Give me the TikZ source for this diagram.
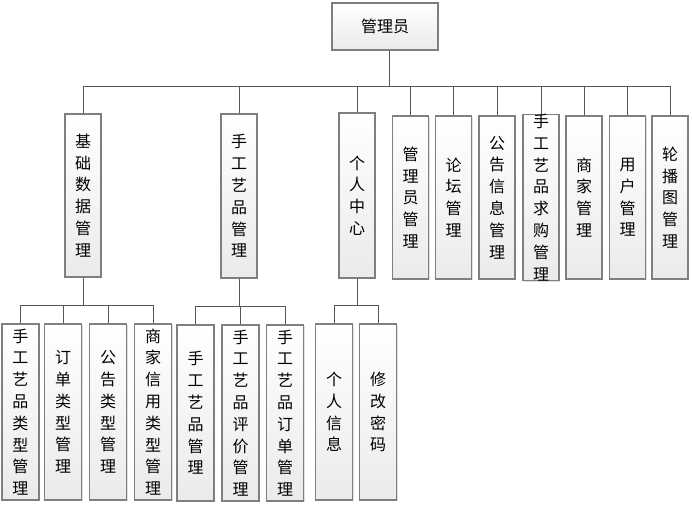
\documentclass[tikz,border=0pt]{standalone}
\usepackage{fontspec}
\newfontfamily\cjk{Noto Sans CJK SC}
\usetikzlibrary{shadows}
\definecolor{boxline}{HTML}{7F7F7F}
\definecolor{linkcol}{HTML}{555555}
\tikzset{
  box/.style={draw=boxline, line width=1.1pt, top color=white, bottom color=black!8,
    drop shadow={shadow xshift=1.3pt, shadow yshift=-1.3pt, fill=black!25},
    inner sep=0pt, align=center, font=\cjk\fontsize{16}{21.8}\selectfont},
  link/.style={draw=linkcol, line width=0.9pt}
}
\begin{document}
\begin{tikzpicture}[x=1pt,y=-1pt]
\useasboundingbox (0,0) rectangle (692,505);
% root
\node[box, minimum width=106pt, minimum height=47pt] (root) at (385,26.5) {管理员};
% level 2
\node[box, minimum width=36pt, minimum height=163pt] (b1) at (83,195.5) {基\\础\\数\\据\\管\\理};
\node[box, minimum width=36pt, minimum height=164pt] (b2) at (239,196) {手\\工\\艺\\品\\管\\理};
\node[box, minimum width=36pt, minimum height=165pt] (b3) at (357,195.5) {个\\人\\中\\心};
\node[box, minimum width=36pt, minimum height=163pt] (b4) at (410.5,197.5) {管\\理\\员\\管\\理};
\node[box, minimum width=36pt, minimum height=163pt] (b5) at (453.5,197.5) {论\\坛\\管\\理};
\node[box, minimum width=36pt, minimum height=163pt] (b6) at (497,197.5) {公\\告\\信\\息\\管\\理};
\node[box, minimum width=36pt, minimum height=163pt] (b7) at (541,197.5) {手\\工\\艺\\品\\求\\购\\管\\理};
\node[box, minimum width=36pt, minimum height=163pt] (b8) at (584,197.5) {商\\家\\管\\理};
\node[box, minimum width=36pt, minimum height=163pt] (b9) at (627.5,197.5) {用\\户\\管\\理};
\node[box, minimum width=36pt, minimum height=163pt] (b10) at (670,197.5) {轮\\播\\图\\管\\理};
% level 3
\node[box, minimum width=37pt, minimum height=176pt] (c1) at (20.5,412) {手\\工\\艺\\品\\类\\型\\管\\理};
\node[box, minimum width=37pt, minimum height=176pt] (c2) at (63,412) {订\\单\\类\\型\\管\\理};
\node[box, minimum width=37pt, minimum height=176pt] (c3) at (108,412) {公\\告\\类\\型\\管\\理};
\node[box, minimum width=37pt, minimum height=176pt] (c4) at (153,412) {商\\家\\信\\用\\类\\型\\管\\理};
\node[box, minimum width=37pt, minimum height=176pt] (d1) at (195.5,413) {手\\工\\艺\\品\\管\\理};
\node[box, minimum width=37pt, minimum height=176pt] (d2) at (240.5,413) {手\\工\\艺\\品\\评\\价\\管\\理};
\node[box, minimum width=37pt, minimum height=176pt] (d3) at (285,413) {手\\工\\艺\\品\\订\\单\\管\\理};
\node[box, minimum width=37pt, minimum height=176pt] (e1) at (334,412) {个\\人\\信\\息};
\node[box, minimum width=37pt, minimum height=176pt] (e2) at (378,412) {修\\改\\密\\码};
% bus coordinates
\coordinate (bus1) at (389,86);
\coordinate (bus2) at (0,305);
\coordinate (bus3) at (0,306);
% root connectors
\draw[link] ([xshift=4pt]root.south) -- (bus1);
\draw[link] (b1.north |- bus1) -- (b10.north |- bus1);
\foreach \n in {b1,b2,b3,b4,b5,b6,b7,b8,b9,b10}
  \draw[link] (\n.north |- bus1) -- (\n.north);
% basic data
\draw[link] (b1.south) -- (b1.south |- bus2);
\draw[link] (c1.north |- bus2) -- (c4.north |- bus2);
\foreach \n in {c1,c2,c3,c4}
  \draw[link] (\n.north |- bus2) -- (\n.north);
% handicraft
\draw[link] (b2.south) -- (b2.south |- bus3);
\draw[link] (d1.north |- bus3) -- (d3.north |- bus3);
\foreach \n in {d1,d2,d3}
  \draw[link] (\n.north |- bus3) -- (\n.north);
% personal
\draw[link] (b3.south) -- (b3.south |- bus2);
\draw[link] (e1.north |- bus2) -- (e2.north |- bus2);
\foreach \n in {e1,e2}
  \draw[link] (\n.north |- bus2) -- (\n.north);
\end{tikzpicture}
\end{document}
